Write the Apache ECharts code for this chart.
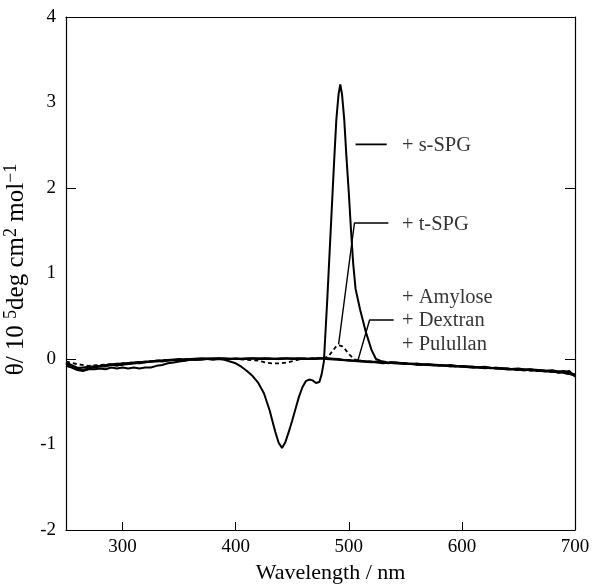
<!DOCTYPE html>
<html>
<head>
<meta charset="utf-8">
<script src="https://cdn.jsdelivr.net/npm/echarts@6/dist/echarts.min.js"></script>
<style>html,body{margin:0;padding:0;background:#fff;}#c{width:592px;height:585px;}</style>
</head>
<body>
<div id="c"></div>
<script>
// ---- data (wavelength nm, theta / 10^5) ----
const sSPG = [
[250,-0.08],[255,-0.10],[260,-0.13],[265,-0.14],[270,-0.12],[275,-0.12],[280,-0.11],[285,-0.12],[290,-0.10],[295,-0.11],
[300,-0.10],[305,-0.11],[310,-0.10],[315,-0.11],[320,-0.10],[325,-0.10],[330,-0.08],[335,-0.07],[340,-0.05],[345,-0.04],
[350,-0.03],[355,-0.02],[360,-0.01],[365,-0.01],[370,0.0],[375,0.0],[380,-0.01],[385,0.0],[390,-0.01],[395,-0.03],
[400,-0.05],[405,-0.09],[410,-0.14],[415,-0.20],[420,-0.28],[425,-0.40],[430,-0.60],[435,-0.85],[438,-0.98],[441,-1.04],
[444,-0.97],[447,-0.85],[450,-0.72],[453,-0.58],[456,-0.44],[459,-0.33],[462,-0.26],[465,-0.24],[468,-0.25],[471,-0.28],
[474,-0.27],[476,-0.18],[478,-0.03],[481,0.70],[484,1.50],[487,2.30],[489,2.80],[491,3.10],[492.5,3.21],[494,3.10],
[496,2.80],[498,2.35],[500,1.95],[502,1.50],[504,1.10],[506,0.82],[510,0.58],[515,0.32],[520,0.11],[524,0.0],
[530,-0.03],[535,-0.04],[540,-0.04],[550,-0.05],[560,-0.06],[570,-0.07],[580,-0.07],[590,-0.08],[600,-0.09],[610,-0.10],
[620,-0.10],[630,-0.11],[640,-0.12],[650,-0.12],[660,-0.13],[670,-0.14],[680,-0.15],[690,-0.16],[700,-0.19]
];
const tSPG = [
[250,-0.03],[260,-0.06],[270,-0.08],[280,-0.07],[290,-0.06],[300,-0.05],[310,-0.04],[320,-0.03],[330,-0.02],[340,-0.01],
[350,-0.01],[360,0.0],[370,0.0],[380,0.0],[390,0.0],[400,0.0],[410,-0.01],[420,-0.02],[426,-0.04],[432,-0.05],
[440,-0.05],[446,-0.04],[452,-0.02],[458,0.0],[470,0.01],[478,0.01],[482,0.03],[486,0.10],
[489,0.15],[491,0.16],[494,0.15],[497,0.11],[500,0.06],[503,0.02],[506,-0.01],[510,-0.02],[520,-0.03],[530,-0.03],
[550,-0.05],[570,-0.07],[600,-0.09],[630,-0.11],[650,-0.13],[680,-0.15],[700,-0.18]
];
const amylose = [
[250,-0.05],[255,-0.08],[260,-0.12],[265,-0.13],[270,-0.11],[275,-0.10],[280,-0.09],[285,-0.09],[290,-0.07],[295,-0.08],
[300,-0.06],[305,-0.06],[310,-0.05],[315,-0.05],[320,-0.04],[325,-0.03],[330,-0.02],[335,-0.03],[340,-0.02],[345,-0.01],
[350,-0.01],[355,-0.02],[360,0.0],[365,-0.01],[370,-0.01],[375,0.0],[380,0.0],[385,0.01],[390,0.0],[395,0.0],
[400,0.01],[405,0.0],[410,0.0],[415,0.01],[420,0.0],[425,0.01],[430,0.01],[435,0.0],[440,0.0],[445,0.01],
[450,0.0],[455,0.01],[460,0.01],[465,0.0],[470,0.0],[475,0.01],[480,0.01],[485,0.0],[490,0.0],[495,-0.01],
[500,-0.01],[505,-0.02],[510,-0.02],[515,-0.03],[520,-0.03],[525,-0.03],[530,-0.04],[535,-0.05],[540,-0.04],[545,-0.05],
[550,-0.05],[555,-0.06],[560,-0.06],[565,-0.07],[570,-0.06],[575,-0.07],[580,-0.07],[585,-0.08],[590,-0.08],[595,-0.09],
[600,-0.08],[605,-0.09],[610,-0.09],[615,-0.10],[620,-0.10],[625,-0.11],[630,-0.10],[635,-0.11],[640,-0.11],[645,-0.12],
[650,-0.12],[655,-0.13],[660,-0.12],[665,-0.13],[670,-0.13],[675,-0.14],[680,-0.14],[685,-0.16],[690,-0.15],[695,-0.14],[700,-0.21]
];
const dextran = [
[250,-0.04],[260,-0.10],[270,-0.10],[280,-0.08],[290,-0.06],[300,-0.05],[310,-0.04],[320,-0.03],[330,-0.02],[340,-0.01],
[350,0.0],[360,-0.01],[370,0.0],[380,0.01],[390,0.0],[400,0.0],[410,0.01],[420,0.0],[430,0.0],[440,0.01],
[450,0.0],[460,0.0],[470,0.01],[480,0.0],[490,-0.01],[500,-0.02],[510,-0.03],[520,-0.04],[530,-0.04],[540,-0.05],
[550,-0.06],[560,-0.05],[570,-0.07],[580,-0.08],[590,-0.07],[600,-0.09],[610,-0.10],[620,-0.09],[630,-0.11],[640,-0.12],
[650,-0.11],[660,-0.13],[670,-0.14],[680,-0.13],[690,-0.16],[700,-0.19]
];
const pulullan = [
[250,-0.06],[260,-0.11],[270,-0.09],[280,-0.08],[290,-0.07],[300,-0.07],[310,-0.05],[320,-0.04],[330,-0.03],[340,-0.02],
[350,-0.01],[360,0.0],[370,0.01],[380,0.0],[390,0.01],[400,0.0],[410,0.0],[420,0.01],[430,0.0],[440,0.0],
[450,0.01],[460,0.0],[470,0.0],[480,0.01],[490,0.0],[500,-0.02],[510,-0.02],[520,-0.03],[530,-0.05],[540,-0.04],
[550,-0.05],[560,-0.07],[570,-0.06],[580,-0.07],[590,-0.09],[600,-0.08],[610,-0.09],[620,-0.11],[630,-0.10],[640,-0.11],
[650,-0.13],[660,-0.12],[670,-0.13],[680,-0.15],[690,-0.14],[700,-0.18]
];
// annotation leaders and labels (data coordinates)
const leaderS = [[506,2.51],[533.5,2.51]];
const leaderT = [[491,0.17],[505,1.59],[535,1.59]];
const leaderD = [[507.8,-0.03],[518.4,0.456],[539.7,0.456]];
const labelTexts = [
  [547, 2.49, '+ s-SPG'],
  [547, 1.57, '+ t-SPG'],
  [547, 0.72, '+ Amylose'],
  [547, 0.45, '+ Dextran'],
  [547, 0.17, '+ Pulullan']
];
const xTicks = [300,400,500,600,700];
const yTicks = [-2,0,2,4];

const FONT = '"Liberation Serif","Times New Roman",serif';
const chart = echarts.init(document.getElementById('c'), null, {renderer:'canvas'});
function lineSeries(data, dashed, w){
  return {type:'line', data:data, showSymbol:false, symbol:'none', silent:true, animation:false,
    lineStyle:{color:'#000', width:w||1.8, type: dashed ? [4,3] : 'solid'}, z: dashed?4:3};
}
chart.setOption({
  animation:false,
  backgroundColor:'#fff',
  grid:{left:66, right:17, top:17, bottom:55, containLabel:false, outerBoundsMode:'none'},
  xAxis:[{
    type:'value', min:250, max:700, interval:50,
    axisLine:{show:true, onZero:false, lineStyle:{color:'#000', width:1.2}},
    axisTick:{show:true, inside:true, length:8, lineStyle:{color:'#000'}, customValues:xTicks},
    axisLabel:{color:'#000', fontFamily:FONT, fontSize:19, margin:8, customValues:xTicks},
    splitLine:{show:false},
    name:'Wavelength / nm', nameLocation:'middle', nameGap:31,
    nameTextStyle:{color:'#000', fontFamily:FONT, fontSize:22, padding:[0,0,0,20]}
  },{
    type:'value', min:250, max:700, position:'top',
    axisLine:{show:true, onZero:false, lineStyle:{color:'#000', width:1.2}},
    axisTick:{show:false}, axisLabel:{show:false}, splitLine:{show:false}
  }],
  yAxis:[{
    type:'value', min:-2, max:4, interval:1,
    axisLine:{show:true, onZero:false, lineStyle:{color:'#000', width:1.2}},
    axisTick:{show:true, inside:true, length:10, lineStyle:{color:'#000'}, customValues:yTicks},
    axisLabel:{color:'#000', fontFamily:FONT, fontSize:19, margin:10},
    splitLine:{show:false},
    name:'{a|θ/ 10 }{s|5}{a|deg cm}{s|2}{a| mol}{s|−1}', nameLocation:'middle', nameGap:33,
    nameTextStyle:{color:'#000', fontFamily:FONT, fontSize:25, padding:[0,0,0,8],
      rich:{a:{fontFamily:FONT, fontSize:25, color:'#000', lineHeight:30},
            s:{fontFamily:FONT, fontSize:18, color:'#000', verticalAlign:'top', lineHeight:30}}}
  },{
    type:'value', min:-2, max:4, interval:1, position:'right',
    axisLine:{show:true, onZero:false, lineStyle:{color:'#000', width:1.2}},
    axisTick:{show:true, inside:true, length:10, lineStyle:{color:'#000'}, customValues:yTicks},
    axisLabel:{show:false}, splitLine:{show:false}
  }],
  series:[
    lineSeries(amylose,false,1.8),
    lineSeries(dextran,false,1.8),
    lineSeries(pulullan,false,1.8),
    lineSeries(tSPG,true,1.8),
    lineSeries(sSPG,false,2),
    lineSeries(leaderS,false,1.8),
    lineSeries(leaderT,false,1.4),
    lineSeries(leaderD,false,1.4),
    {type:'scatter', data:labelTexts.map(d=>[d[0],d[1],d[2]]), symbolSize:0, silent:true,
     label:{show:true, position:'right', distance:0, color:'#000', fontFamily:FONT, fontSize:20.5,
       formatter:p=>p.data[2]}}
  ]
});
</script>
</body>
</html>
